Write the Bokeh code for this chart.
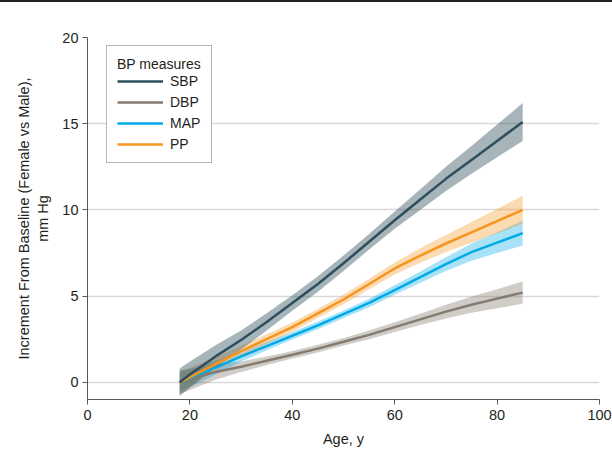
from bokeh.plotting import figure
from bokeh.models import Legend, LegendItem, FixedTicker
from bokeh.embed import file_html
from bokeh.resources import INLINE

# ---- data ----
age = [18, 20, 25, 30, 35, 40, 45, 50, 55, 60, 65, 70, 75, 80, 85]

sbp = [0, 0.45, 1.5, 2.45, 3.5, 4.6, 5.7, 6.9, 8.15, 9.4, 10.6, 11.8, 12.9, 14.0, 15.1]
sbp_hw = [0.8, 0.75, 0.65, 0.55, 0.5, 0.45, 0.45, 0.45, 0.45, 0.5, 0.6, 0.7, 0.8, 0.95, 1.1]

dbp = [0, 0.15, 0.6, 0.9, 1.25, 1.6, 1.95, 2.35, 2.75, 3.2, 3.65, 4.1, 4.5, 4.85, 5.2]
dbp_hw = [0.7, 0.6, 0.45, 0.3, 0.25, 0.22, 0.22, 0.22, 0.25, 0.28, 0.33, 0.4, 0.47, 0.55, 0.65]

map_ = [0, 0.25, 0.85, 1.5, 2.1, 2.7, 3.3, 3.95, 4.6, 5.35, 6.1, 6.85, 7.55, 8.1, 8.65]
map_hw = [0.6, 0.55, 0.4, 0.3, 0.25, 0.22, 0.22, 0.22, 0.25, 0.28, 0.33, 0.4, 0.5, 0.6, 0.72]

pp = [0, 0.3, 1.05, 1.8, 2.5, 3.2, 4.0, 4.8, 5.7, 6.6, 7.35, 8.05, 8.7, 9.35, 10.0]
pp_hw = [0.6, 0.55, 0.4, 0.32, 0.28, 0.27, 0.27, 0.28, 0.3, 0.35, 0.42, 0.5, 0.6, 0.7, 0.82]

series_names = ["SBP", "DBP", "MAP", "PP"]
series_vals = [sbp, dbp, map_, pp]
series_hw = [sbp_hw, dbp_hw, map_hw, pp_hw]
series_colors = ["#2d4f5d", "#847a6f", "#00aae8", "#f7941d"]
band_alpha = [0.42, 0.38, 0.34, 0.34]

x_ticks = [0, 20, 40, 60, 80, 100]
y_ticks = [0, 5, 10, 15, 20]

FONT = "Liberation Sans"
TXT = "#231f20"

p = figure(width=612, height=449, output_backend="svg", toolbar_location=None,
           x_range=(0, 100), y_range=(-1, 20),
           min_border_left=87, min_border_right=13, min_border_top=35, min_border_bottom=52)
p.styles = {"border-top": "2px solid #231f20"}
p.outline_line_color = None
p.background_fill_color = "white"

# bands (drawn underneath), then lines
order = [1, 2, 3, 0]
for i in order:
    lo = [v - h for v, h in zip(series_vals[i], series_hw[i])]
    hi = [v + h for v, h in zip(series_vals[i], series_hw[i])]
    p.varea(x=age, y1=lo, y2=hi, fill_color=series_colors[i], fill_alpha=band_alpha[i])

line_r = {}
for i in order:
    line_r[i] = p.line(age, series_vals[i], line_color=series_colors[i], line_width=2.5,
                       line_join="round")

# axes
p.xaxis.ticker = FixedTicker(ticks=x_ticks)
p.yaxis.ticker = FixedTicker(ticks=y_ticks)
for ax in (p.xaxis[0], p.yaxis[0]):
    ax.axis_line_color = "#58595b"
    ax.axis_line_width = 1
    ax.major_tick_line_color = "#58595b"
    ax.major_tick_in = 0
    ax.major_tick_out = 5
    ax.minor_tick_line_color = None
    ax.major_label_text_font = FONT
    ax.major_label_text_font_size = "14.5px"
    ax.major_label_text_color = TXT
    ax.axis_label_text_font = FONT
    ax.axis_label_text_font_size = "14.5px"
    ax.axis_label_text_font_style = "normal"
    ax.axis_label_text_color = TXT
p.xaxis.axis_label = "Age, y"
p.yaxis.axis_label = "Increment From Baseline (Female vs Male),\nmm Hg"
p.xaxis.major_label_standoff = 5
p.yaxis.major_label_standoff = 4
p.xaxis.axis_label_standoff = 8
p.yaxis.axis_label_standoff = 8

p.xgrid.grid_line_color = None
p.ygrid.grid_line_color = "#d9d9d9"
p.ygrid.grid_line_width = 1.5

legend = Legend(items=[LegendItem(label=series_names[i], renderers=[line_r[i]]) for i in range(4)],
                location=(19, 236))
legend.title = "BP measures"
legend.title_text_font = FONT
legend.title_text_font_size = "14px"
legend.title_text_font_style = "normal"
legend.title_text_color = TXT
legend.title_standoff = 1
legend.label_text_font = FONT
legend.label_text_font_size = "14px"
legend.label_text_color = TXT
legend.border_line_color = "#6d6e71"
legend.border_line_width = 1
legend.background_fill_alpha = 1
legend.padding = 10
legend.margin = 0
legend.spacing = 5
legend.label_height = 16
legend.glyph_height = 16
legend.glyph_width = 46
legend.label_standoff = 7
p.add_layout(legend, "center")

open("out.html", "w").write(file_html(p, INLINE))
